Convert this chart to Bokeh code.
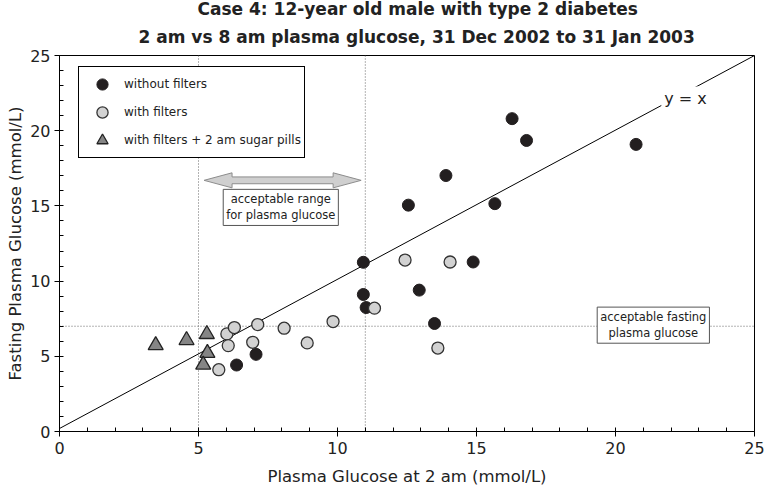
from bokeh.plotting import figure
from bokeh.models import (Range1d, Span, Label, Legend, LegendItem, FixedTicker, Title)
from bokeh.embed import file_html
from bokeh.resources import INLINE

# ---- data ----
black_x = [6.37, 7.07, 10.93, 10.93, 11.03, 12.55, 12.94, 13.49, 13.90, 14.88, 15.66, 16.28, 16.80, 20.74]
black_y = [4.42, 5.13, 11.25, 9.11, 8.24, 15.05, 9.40, 7.18, 17.02, 11.27, 15.15, 20.80, 19.35, 19.09]
gray_x = [5.73, 6.02, 6.07, 6.29, 6.95, 7.13, 8.08, 8.91, 9.84, 11.33, 12.43, 13.61, 14.05]
gray_y = [4.11, 6.49, 5.71, 6.91, 5.93, 7.11, 6.87, 5.89, 7.31, 8.20, 11.40, 5.55, 11.27]
tri_x = [3.46, 4.57, 5.30, 5.32, 5.17]
tri_y = [5.73, 6.07, 6.47, 5.22, 4.44]
line_x = [0, 25]
line_y = [0.2, 25]
range_lo, range_hi = 5, 11          # acceptable range for plasma glucose
fasting_ok = 7                      # acceptable fasting plasma glucose
arrow_x = [5.2, 10.85]
arrow_y = 16.7
ticks = [0, 5, 10, 15, 20, 25]
labels = ["without filters", "with filters", "with filters + 2 am sugar pills"]
title_lines = ["Case 4:  12-year old male with type 2 diabetes",
               "2 am vs 8 am plasma glucose, 31 Dec 2002 to 31 Jan 2003"]

FONT = "DejaVu Sans"
TXT = "#222222"

p = figure(width=769, height=490, output_backend="svg", toolbar_location=None,
           x_range=Range1d(0, 25), y_range=Range1d(0, 25),
           min_border_left=59, min_border_right=15, min_border_top=0, min_border_bottom=59)
p.xgrid.visible = False
p.ygrid.visible = False
p.outline_line_color = "black"
p.outline_line_width = 1
p.background_fill_color = "white"
p.border_fill_color = "white"

for ax in (p.xaxis[0], p.yaxis[0]):
    ax.ticker = FixedTicker(ticks=ticks, minor_ticks=list(range(0, 26)))
    ax.major_tick_in = 0
    ax.major_tick_out = 5
    ax.minor_tick_in = 4
    ax.minor_tick_out = 0
    ax.axis_line_color = "black"
    ax.major_tick_line_color = "black"
    ax.minor_tick_line_color = "black"
    ax.major_label_text_font = FONT
    ax.major_label_text_font_size = "16px"
    ax.major_label_text_color = TXT
    ax.axis_label_text_font = FONT
    ax.axis_label_text_font_size = "16.5px"
    ax.axis_label_text_font_style = "normal"
    ax.axis_label_text_color = TXT

p.xaxis.major_label_standoff = 5
p.xaxis.axis_label_standoff = 10
p.yaxis.major_label_standoff = 4
p.yaxis.axis_label_standoff = 2

p.xaxis.axis_label = "Plasma Glucose at 2 am (mmol/L)"
p.yaxis.axis_label = "Fasting Plasma Glucose (mmol/L)"

# title, two lines (added bottom line first so it sits nearest the plot)
t2 = Title(text=title_lines[1], align="left", offset=79, text_font=FONT,
           text_font_size="17px", text_font_style="bold", text_color=TXT, standoff=18)
t1 = Title(text=title_lines[0], align="left", offset=138, text_font=FONT,
           text_font_size="17px", text_font_style="bold", text_color=TXT, standoff=-7)
p.add_layout(t2, "above")
p.add_layout(t1, "above")

# reference lines
for loc, dim in ((range_lo, "height"), (range_hi, "height"), (fasting_ok, "width")):
    p.add_layout(Span(location=loc, dimension=dim, line_color="#666666",
                      line_dash="1 2", line_width=1, level="underlay"))

p.line(line_x, line_y, line_color="black", line_width=1)

# double arrow (acceptable range)
ux = 25 / 695.0   # data units per pixel, x
uy = 25 / 375.0   # data units per pixel, y
hl, hh, sh = 28 * ux, 7.5 * uy, 3.4 * uy
x0, x1 = arrow_x
ax_ = [x0, x0 + hl, x0 + hl, x1 - hl, x1 - hl, x1, x1 - hl, x1 - hl, x0 + hl, x0 + hl]
ay_ = [arrow_y, arrow_y + hh, arrow_y + sh, arrow_y + sh, arrow_y + hh, arrow_y,
       arrow_y - hh, arrow_y - sh, arrow_y - sh, arrow_y - hh]
p.patch(ax_, ay_, fill_color="#cfcfcf", line_color="#8c8c8c", line_width=1)

r_black = p.scatter(black_x, black_y, marker="circle", size=12,
                    fill_color="#231f20", line_color="#231f20", line_width=1)
r_gray = p.scatter(gray_x, gray_y, marker="circle", size=12,
                   fill_color="#d2d2d2", line_color="#333333", line_width=1.3)
r_tri = p.scatter(tri_x, tri_y, marker="triangle", size=15,
                  fill_color="#858585", line_color="#222222", line_width=1.3)

# text boxes
p.add_layout(Label(x=7.96, y=14.9, text="acceptable range\nfor plasma glucose",
                   text_align="center", text_baseline="middle",
                   text_font=FONT, text_font_size="11.5px", text_color=TXT,
                   text_line_height=1.15,
                   background_fill_color="white", border_line_color="#555555",
                   border_line_width=1, padding=3))
p.add_layout(Label(x=21.36, y=7.07, text="acceptable fasting\nplasma glucose",
                   text_align="center", text_baseline="middle",
                   text_font=FONT, text_font_size="11.5px", text_color=TXT,
                   text_line_height=1.15,
                   background_fill_color="white", border_line_color="#555555",
                   border_line_width=1, padding=3))
p.add_layout(Label(x=22.52, y=22.11, text="y = x", text_align="center", text_baseline="middle",
                   text_font=FONT, text_font_size="16px", text_color=TXT,
                   background_fill_color="white", padding=3))

legend = Legend(items=[LegendItem(label=labels[0], renderers=[r_black]),
                       LegendItem(label=labels[1], renderers=[r_gray]),
                       LegendItem(label=labels[2], renderers=[r_tri])],
                location=(19, 273), orientation="vertical")
legend.label_text_font = FONT
legend.label_text_font_size = "12px"
legend.label_text_color = TXT
legend.border_line_color = "black"
legend.border_line_width = 1
legend.border_line_alpha = 1
legend.background_fill_color = "white"
legend.background_fill_alpha = 1
legend.padding = 3
legend.spacing = 0
legend.margin = 0
legend.glyph_height = 28
legend.glyph_width = 40
legend.label_height = 28
legend.label_standoff = 2
p.add_layout(legend)

open("out.html", "w").write(file_html(p, INLINE))
